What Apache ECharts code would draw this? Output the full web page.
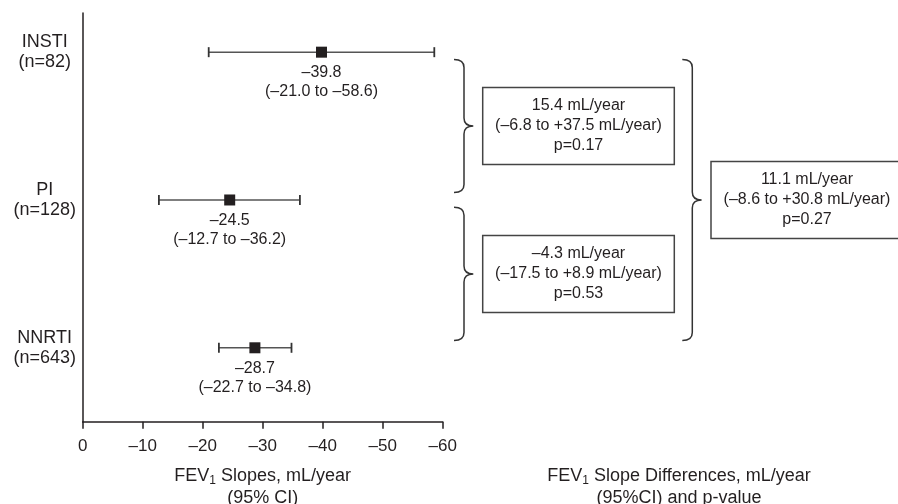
<!DOCTYPE html>
<html><head><meta charset="utf-8">
<script src="https://cdn.jsdelivr.net/npm/echarts@6/dist/echarts.min.js"></script>
<style>html,body{margin:0;padding:0;background:#fff}#c{width:898px;height:504px}</style>
</head><body><div id="c"></div>
<script>
// ---- data ----
const groups = ['INSTI', 'PI', 'NNRTI'];
const groupN = ['n=82', 'n=128', 'n=643'];
const rowPos = [3, 2, 1];
const slopeMean = [-39.8, -24.5, -28.7];
const slopeLow = [-21.0, -12.7, -22.7];
const slopeHigh = [-58.6, -36.2, -34.8];

const diffA = ['INSTI', 'PI', 'INSTI'];
const diffB = ['PI', 'NNRTI', 'NNRTI'];
const diffLevel = [1, 1, 2];
const diffValue = [15.4, -4.3, 11.1];
const diffLow = [-6.8, -17.5, -8.6];
const diffHigh = [37.5, 8.9, 30.8];
const diffP = ['0.17', '0.53', '0.27'];

// ---- helpers ----
const FONT = '"Liberation Sans", Arial, Helvetica, sans-serif';
const INK = '#231f20';
const dash = v => (v < 0 ? '\u2013' + Math.abs(v).toFixed(1) : v.toFixed(1));
const signed = v => (v < 0 ? '\u2013' : '+') + Math.abs(v).toFixed(1);

const chart = echarts.init(document.getElementById('c'), null, {renderer: 'canvas'});

const nameRich = {
  a: {fontSize: 18, lineHeight: 22, fontFamily: FONT, color: INK},
  s: {fontSize: 12, lineHeight: 12, verticalAlign: 'bottom', fontFamily: FONT, color: INK}
};

const option = {
  animation: false,
  backgroundColor: '#fff',
  textStyle: {fontFamily: FONT, color: INK},
  grid: [
    {left: 82.7, right: 455.3, top: 13, bottom: 82.3, containLabel: false, outerBoundsMode: 'none'},
    {left: 460, right: 0, top: 13, bottom: 82.3, containLabel: false, outerBoundsMode: 'none'}
  ],
  xAxis: [
    {
      gridIndex: 0, type: 'value', min: -60, max: 0, interval: 10, inverse: true,
      axisLine: {lineStyle: {color: INK, width: 1.5}},
      axisTick: {length: 7, lineStyle: {color: INK, width: 1.5}},
      axisLabel: {fontSize: 17, color: INK, margin: 16, fontFamily: FONT,
        formatter: v => (v < 0 ? '\u2013' + (-v) : '' + v)},
      splitLine: {show: false},
      name: '{a|FEV}{s|1}{a| Slopes, mL/year}\n{a|(95% CI)}',
      nameLocation: 'middle', nameGap: 43,
      nameTextStyle: {rich: nameRich, align: 'center'}
    },
    {
      gridIndex: 1, type: 'value', min: 0, max: 1,
      axisLine: {show: false}, axisTick: {show: false}, axisLabel: {show: false},
      splitLine: {show: false},
      name: '{a|FEV}{s|1}{a| Slope Differences, mL/year}\n{a|(95%CI) and p-value}',
      nameLocation: 'middle', nameGap: 43,
      nameTextStyle: {rich: nameRich, align: 'center'}
    }
  ],
  yAxis: [
    {
      gridIndex: 0, type: 'value', min: 0.5, max: 3.265, interval: 0.5,
      axisLine: {show: true, lineStyle: {color: INK, width: 1.5}},
      axisTick: {show: false}, splitLine: {show: false},
      axisLabel: {
        margin: 6, showMaxLabel: false,
        formatter: v => {
          const i = rowPos.indexOf(v);
          if (i < 0) return '';
          return '{c|' + groups[i] + '}\n{c|(' + groupN[i] + ')}';
        },
        rich: {c: {width: 64, align: 'center', fontSize: 18, lineHeight: 20, fontFamily: FONT, color: INK}}
      }
    },
    {
      gridIndex: 1, type: 'value', min: 0.5, max: 3.265, show: false
    }
  ],
  series: [
    {
      type: 'custom', xAxisIndex: 0, yAxisIndex: 0, z: 2,
      data: groups.map((g, i) => [slopeLow[i], slopeHigh[i], rowPos[i]]),
      encode: {x: [0, 1], y: 2},
      renderItem: (params, api) => {
        const y = api.value(2);
        const p1 = api.coord([api.value(0), y]);
        const p2 = api.coord([api.value(1), y]);
        const h = 5;
        return {
          type: 'group', children: [
            {type: 'line', shape: {x1: p1[0], y1: p1[1], x2: p2[0], y2: p2[1]},
              style: {stroke: '#555', lineWidth: 1.5}},
            {type: 'line', shape: {x1: p1[0], y1: p1[1] - h, x2: p1[0], y2: p1[1] + h},
              style: {stroke: '#333', lineWidth: 1.8}},
            {type: 'line', shape: {x1: p2[0], y1: p2[1] - h, x2: p2[0], y2: p2[1] + h},
              style: {stroke: '#333', lineWidth: 1.8}}
          ]
        };
      }
    },
    {
      type: 'scatter', xAxisIndex: 0, yAxisIndex: 0, z: 5,
      symbol: 'rect', symbolSize: 11,
      itemStyle: {color: INK, opacity: 1},
      emphasis: {disabled: true},
      data: groups.map((g, i) => [slopeMean[i], rowPos[i]]),
      label: {
        show: true, position: 'bottom', distance: 5.5, opacity: 1,
        fontSize: 16, lineHeight: 19, color: INK, fontFamily: FONT, align: 'center',
        formatter: p => {
          const i = p.dataIndex;
          return dash(slopeMean[i]) + '\n(' + dash(slopeLow[i]) + ' to ' + dash(slopeHigh[i]) + ')';
        }
      }
    },
    {
      type: 'custom', xAxisIndex: 1, yAxisIndex: 1, z: 3,
      data: diffA.map((a, i) => [0, rowPos[groups.indexOf(a)], rowPos[groups.indexOf(diffB[i])], diffLevel[i], i]),
      encode: {x: 0, y: [1, 2]},
      renderItem: (params, api) => {
        const cs = params.coordSys;
        const from = api.value(1), to = api.value(2), level = api.value(3), i = api.value(4);
        const inset = 0.05;
        const yT = api.coord([0, from - inset])[1];
        const yB = api.coord([0, to + inset])[1];
        const m = api.coord([0, (from + to) / 2])[1];
        const base = cs.x + (level === 1 ? -6 : 222.3);
        const boxR = level === 1 ? 214.3 : 443;
        const x0 = base, xv = base + 10, xt = base + 19.3;
        const bx = base + 28.7, bw = (cs.x + boxR) - bx;
        const bh = 77;
        const r = 8;
        const path = 'M' + x0 + ' ' + yT + ' Q' + xv + ' ' + yT + ' ' + xv + ' ' + (yT + r) +
          ' L' + xv + ' ' + (m - r) + ' Q' + xv + ' ' + m + ' ' + xt + ' ' + m +
          ' Q' + xv + ' ' + m + ' ' + xv + ' ' + (m + r) +
          ' L' + xv + ' ' + (yB - r) + ' Q' + xv + ' ' + yB + ' ' + x0 + ' ' + yB;
        const txt = dash(diffValue[i]) + ' mL/year\n(' + dash(diffLow[i]) + ' to ' + signed(diffHigh[i]) + ' mL/year)\np=' + diffP[i];
        return {
          type: 'group', children: [
            {type: 'path', shape: {pathData: path}, style: {fill: 'none', stroke: '#333', lineWidth: 1.5}},
            {type: 'rect', shape: {x: bx, y: m - bh / 2, width: bw, height: bh},
              style: {fill: '#fff', stroke: '#444', lineWidth: 1.5}},
            {type: 'text', style: {text: txt, x: bx + bw / 2, y: m, align: 'center', verticalAlign: 'middle',
              fontSize: 16, lineHeight: 20, fontFamily: FONT, fill: INK}}
          ]
        };
      }
    }
  ]
};
chart.setOption(option);
</script>
</body></html>
